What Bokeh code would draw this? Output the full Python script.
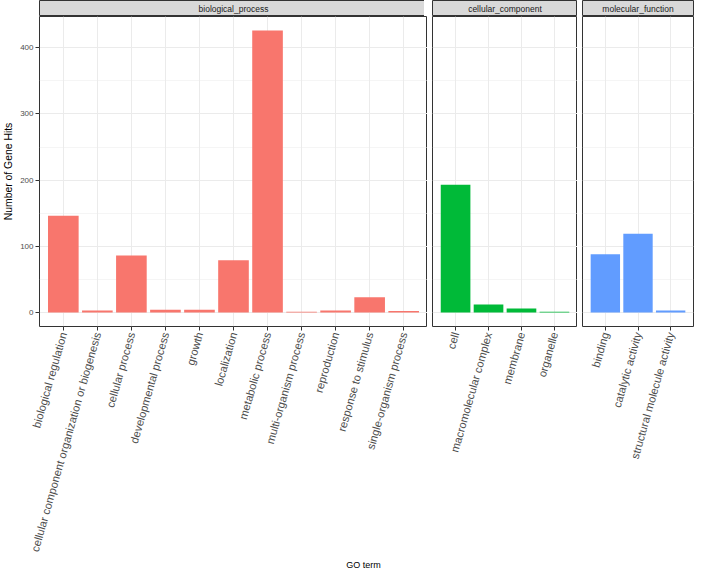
import math
from bokeh.plotting import figure
from bokeh.models import FactorRange, Range1d, FixedTicker, Label
from bokeh.layouts import row, column
from bokeh.embed import file_html
from bokeh.resources import INLINE

# ---- data ----
bp_terms = ["biological regulation", "cellular component organization or biogenesis",
            "cellular process", "developmental process", "growth", "localization",
            "metabolic process", "multi-organism process", "reproduction",
            "response to stimulus", "single-organism process"]
bp_hits = [146, 3, 86, 4, 4, 79, 426, 1, 3, 23, 2]

cc_terms = ["cell", "macromolecular complex", "membrane", "organelle"]
cc_hits = [193, 12, 6, 1]

mf_terms = ["binding", "catalytic activity", "structural molecule activity"]
mf_hits = [88, 119, 3]

facet_names = ["biological_process", "cellular_component", "molecular_function"]
facet_colors = ["#F8766D", "#00BA38", "#619CFF"]
y_ticks = [0, 100, 200, 300, 400]
y_minor = [50, 150, 250, 350]
y_label = "Number of Gene Hits"
x_label = "GO term"

# ---- style / layout ----
FONT = "Liberation Sans"
frame_widths = [388, 145, 111]
FRAME_H = 310
STRIP_H = 16
LEFT = 36
GAP = 5
RIGHT = 2
BOTTOM = 220
GO_H = 14

all_hits = bp_hits + cc_hits + mf_hits
ymax = max(all_hits)
yr = Range1d(-0.05 * ymax, 1.05 * ymax)

facets = [(facet_names[0], bp_terms, bp_hits, facet_colors[0], frame_widths[0]),
          (facet_names[1], cc_terms, cc_hits, facet_colors[1], frame_widths[1]),
          (facet_names[2], mf_terms, mf_hits, facet_colors[2], frame_widths[2])]

cols = []
for i, (name, terms, hits, color, fw) in enumerate(facets):
    ml = LEFT if i == 0 else GAP
    mr = RIGHT if i == len(facets) - 1 else 0

    strip = figure(frame_width=fw, frame_height=STRIP_H,
                   x_range=Range1d(0, 1), y_range=Range1d(0, 1),
                   x_axis_location=None, y_axis_location=None,
                   toolbar_location=None, output_backend="svg",
                   min_border_left=ml, min_border_right=mr,
                   min_border_top=0, min_border_bottom=0,
                   background_fill_color="#D9D9D9",
                   outline_line_color="#333333", outline_line_width=1,
                   border_fill_color="white")
    strip.grid.visible = False
    strip.add_layout(Label(x=0.5, y=0.5, text=name, text_align="center",
                           text_baseline="middle", text_font_size="8.5px",
                           text_color="#1A1A1A", text_font=FONT))

    p = figure(x_range=FactorRange(factors=terms, range_padding=0.2,
                                   range_padding_units="absolute"),
               y_range=yr, frame_width=fw, frame_height=FRAME_H,
               toolbar_location=None, output_backend="svg",
               y_axis_location="left" if i == 0 else None,
               min_border_left=ml, min_border_right=mr,
               min_border_top=0, min_border_bottom=BOTTOM,
               outline_line_color="#333333", outline_line_width=1,
               background_fill_color="white", border_fill_color="white")
    p.vbar(x=terms, top=hits, width=0.9, fill_color=color, line_color=None)

    xa = p.xaxis[0]
    xa.major_label_orientation = math.radians(74)
    xa.major_label_text_font_size = "11.2px"
    xa.major_label_text_color = "#4D4D4D"
    xa.major_label_text_font = FONT
    xa.major_tick_out = 4
    xa.major_tick_in = 0
    xa.major_tick_line_color = "#333333"
    xa.axis_line_color = None
    xa.major_label_standoff = 2

    p.xgrid.grid_line_color = "#EBEBEB"
    p.xgrid.grid_line_width = 1
    p.ygrid.ticker = FixedTicker(ticks=y_ticks, minor_ticks=y_minor)
    p.ygrid.grid_line_color = "#EBEBEB"
    p.ygrid.grid_line_width = 1
    p.ygrid.minor_grid_line_color = "#EBEBEB"
    p.ygrid.minor_grid_line_width = 0.5

    if i == 0:
        ya = p.yaxis[0]
        ya.ticker = FixedTicker(ticks=y_ticks, minor_ticks=y_minor)
        ya.minor_tick_line_color = None
        ya.major_tick_out = 4
        ya.major_tick_in = 0
        ya.major_tick_line_color = "#333333"
        ya.axis_line_color = None
        ya.major_label_text_font_size = "8px"
        ya.major_label_text_color = "#4D4D4D"
        ya.major_label_text_font = FONT
        ya.major_label_standoff = 2
        ya.axis_label = y_label
        ya.axis_label_text_font_size = "10.4px"
        ya.axis_label_text_font_style = "normal"
        ya.axis_label_text_font = FONT
        ya.axis_label_text_color = "black"
        ya.axis_label_standoff = 3

    cols.append(column(strip, p))

top = row(*cols)

total_w = LEFT + sum(frame_widths) + GAP * (len(facets) - 1) + RIGHT
go = figure(width=total_w, height=GO_H, x_range=Range1d(0, total_w), y_range=Range1d(0, 1),
            x_axis_location=None, y_axis_location=None, toolbar_location=None,
            output_backend="svg", min_border=0, outline_line_color=None)
go.grid.visible = False
go.add_layout(Label(x=LEFT + (total_w - LEFT - RIGHT) / 2, y=0.5, text=x_label,
                    text_align="center", text_baseline="middle",
                    text_font_size="9px", text_color="black", text_font=FONT))

layout = column(top, go)

open("out.html", "w").write(file_html(layout, INLINE))
